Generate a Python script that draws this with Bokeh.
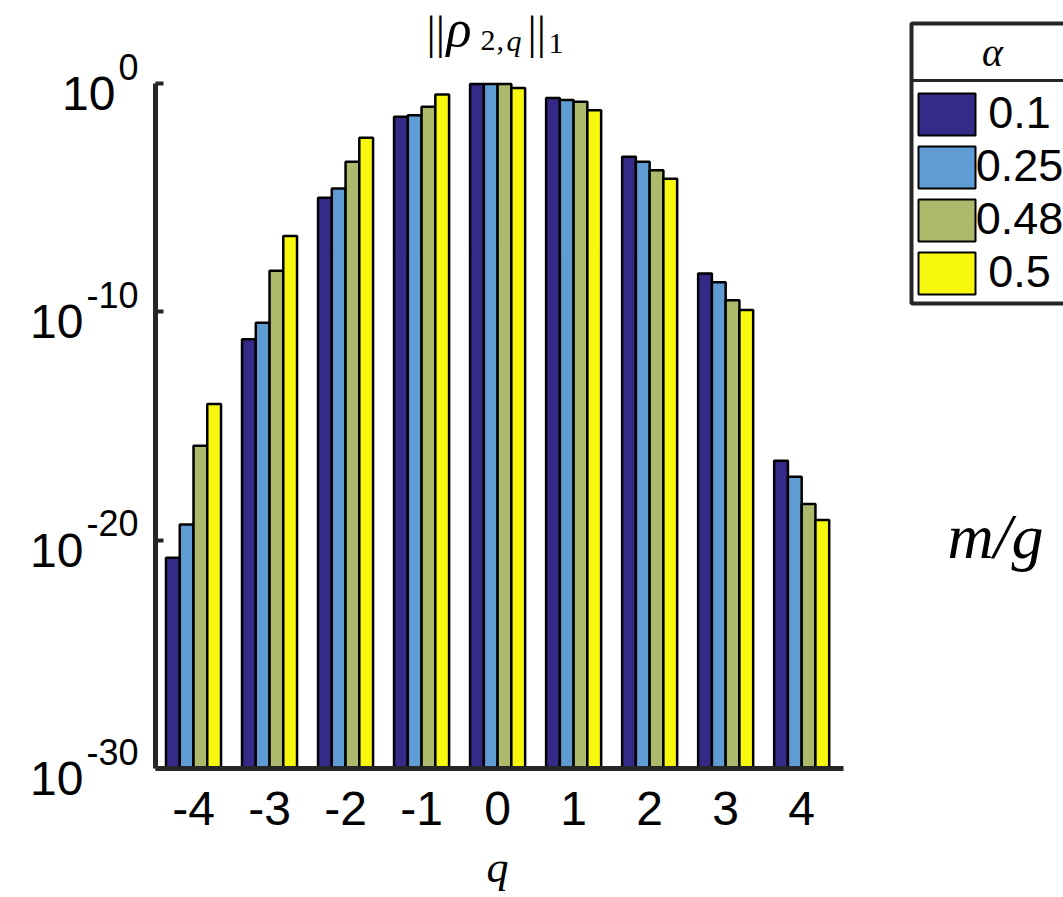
from bokeh.plotting import figure
from bokeh.models import (Range1d, FixedTicker, CustomJSTickFormatter, Label,
                          LinearAxis, LogAxis)
from bokeh.layouts import row
from bokeh.embed import file_html
from bokeh.resources import INLINE
from bokeh.core.properties import value

# ---------------- data ----------------
q_values = [-4, -3, -2, -1, 0, 1, 2, 3, 4]
x_tick_labels = ["-4", "-3", "-2", "-1", "0", "1", "2", "3", "4"]
alpha_labels = ["0.1", "0.25", "0.48", "0.5"]
colors = ["#352A87", "#5E9CD3", "#ADBA6B", "#F8F80E"]
norm_a01 = [1.7e-21, 6.3e-12, 1.0e-5, 0.035, 0.95, 0.23, 6.2e-4, 4.8e-9, 3.0e-17]
norm_a025 = [4.9e-20, 3.3e-11, 2.5e-5, 0.041, 0.95, 0.19, 3.7e-4, 2.0e-9, 6.0e-18]
norm_a048 = [1.35e-16, 6.3e-9, 3.7e-4, 0.095, 0.94, 0.16, 1.6e-4, 3.2e-10, 3.8e-19]
norm_a05 = [9.1e-15, 2.1e-7, 4.2e-3, 0.33, 0.64, 0.068, 6.8e-5, 1.2e-10, 7.6e-20]
series = [norm_a01, norm_a025, norm_a048, norm_a05]
y_tick_values = [1e-30, 1e-20, 1e-10, 1e0]
y_tick_exponents = ["-30", "-20", "-10", "0"]

SANS = "Liberation Sans"
SERIF = "Liberation Serif"
AXIS_COLOR = "#262626"
MID = 0.3375   # em offset from alphabetic baseline to text middle

# ---------------- layout constants (pixels) ----------------
W, H = 898, 897
FRAME_L, FRAME_R, FRAME_T, FRAME_B = 155, 843, 83, 768
X0, X1 = -4.5, 4.55          # axis extent (data)
E0, E1 = -30, 0              # log10 extent of y axis
Y0, Y1 = 10.0 ** E0, 10.0 ** E1

sx = (FRAME_R - FRAME_L) / (X1 - X0)
dec = (FRAME_B - FRAME_T) / (E1 - E0)
x_range = Range1d(X0 - FRAME_L / sx, X1 + (W - FRAME_R) / sx)
y_range = Range1d(10.0 ** (E0 - (H - FRAME_B) / dec), 10.0 ** (E1 + FRAME_T / dec))

p = figure(width=W, height=H, x_range=x_range, y_range=y_range, y_axis_type="log",
           x_axis_location=None, y_axis_location=None,
           output_backend="svg", toolbar_location=None, min_border=0)
p.outline_line_color = None
p.xgrid.visible = False
p.ygrid.visible = False
p.background_fill_color = "white"

bar_w = 0.181
for i, vals in enumerate(series):
    off = (i - 1.5) * bar_w
    p.vbar(x=[q + off for q in q_values], top=vals, bottom=Y0, width=bar_w,
           fill_color=colors[i], line_color="black", line_width=2.5)

# x axis
xaxis = LinearAxis(fixed_location=Y0, bounds=(X0, X1),
                   ticker=FixedTicker(ticks=q_values, minor_ticks=[]))
xaxis.major_label_overrides = {q: lab for q, lab in zip(q_values, x_tick_labels)}
xaxis.major_label_text_font = SANS
xaxis.major_label_text_font_size = "48px"
xaxis.major_label_text_color = "black"
xaxis.major_label_standoff = 23
xaxis.major_tick_in = 0
xaxis.major_tick_out = 0
xaxis.minor_tick_line_color = None
xaxis.axis_line_width = 5
xaxis.axis_line_color = AXIS_COLOR
p.add_layout(xaxis, "below")

# y axis
yaxis = LogAxis(fixed_location=X0, bounds=(Y0, Y1),
                ticker=FixedTicker(ticks=y_tick_values, minor_ticks=[]))
yaxis.formatter = CustomJSTickFormatter(code="return '';")
yaxis.major_tick_in = 8
yaxis.major_tick_out = 0
yaxis.major_tick_line_width = 4
yaxis.major_tick_line_color = AXIS_COLOR
yaxis.minor_tick_line_color = None
yaxis.axis_line_width = 5
yaxis.axis_line_color = AXIS_COLOR
p.add_layout(yaxis, "left")

# y tick labels 10^k
adv = {"0": 0.556, "1": 0.556, "2": 0.556, "3": 0.556, "-": 0.333}
SUP = 36
BASE = 48
for val, ex in zip(y_tick_values, y_tick_exponents):
    sup_w = sum(adv[c] for c in ex) * SUP
    p.add_layout(Label(x=X0, y=val, x_offset=-17, y_offset=17, text=ex,
                       text_align="right", text_baseline="middle",
                       text_font=SANS, text_font_size=f"{SUP}px", text_color="black"))
    p.add_layout(Label(x=X0, y=val, x_offset=-17 - sup_w - 3, y_offset=-10, text="10",
                       text_align="right", text_baseline="middle",
                       text_font=SANS, text_font_size=f"{BASE}px", text_color="black"))

# title ||rho_{2,q}||_1  (px = left edge, base = alphabetic baseline, in pixels)
def tlabel(txt, px, base, size, style="normal"):
    mid = base - MID * size
    p.add_layout(Label(x=X0, y=Y1, x_offset=px - FRAME_L, y_offset=FRAME_T - mid,
                       text=txt, text_align="left", text_baseline="middle",
                       text_font=SERIF, text_font_size=f"{size}px",
                       text_font_style=style, text_color="black"))

tlabel("||", 426, 48, 46)
tlabel("ρ", 446, 46, 52, "italic")
tlabel("2", 480, 50, 30)
tlabel(",", 496, 50, 30)
tlabel("q", 506, 50, 30, "italic")
tlabel("||", 527, 48, 46)
tlabel("1", 548, 53, 30)

# x axis label
p.add_layout(Label(x=0, y=Y0, y_offset=-(882 - MID * 44 - FRAME_B), text="q",
                   text_align="center", text_baseline="middle", text_font=SERIF,
                   text_font_size="44px", text_font_style="italic", text_color="black"))

# ---------------- legend / side panel ----------------
W2 = 1063 - W
p2 = figure(width=W2, height=H, x_range=Range1d(W, W + W2), y_range=Range1d(H, 0),
            output_backend="svg", toolbar_location=None, x_axis_location=None,
            y_axis_location=None, min_border=0)
p2.outline_line_color = None
p2.xgrid.visible = False
p2.ygrid.visible = False
p2.background_fill_color = "white"

p2.quad(left=[911], right=[1120], top=[23], bottom=[303], fill_color="white",
        line_color=AXIS_COLOR, line_width=4)
p2.segment(x0=[911], y0=[80], x1=[1120], y1=[80], line_color=AXIS_COLOR, line_width=3)
p2.text(x=[992], y=[52], text=["α"], text_font=value(SERIF), text_font_style="italic",
        text_font_size="40px", text_align="center", text_baseline="middle", text_color="black")

n = len(alpha_labels)
tops = [93 + 53 * i for i in range(n)]
p2.quad(left=[918] * n, right=[975] * n, top=tops, bottom=[t + 42 for t in tops],
        fill_color=colors, line_color="black", line_width=2)
p2.text(x=[1019] * n, y=[t + 19 for t in tops], text=alpha_labels, text_font=value(SANS),
        text_font_size="45px", text_align="center", text_baseline="middle", text_color="black")

p2.text(x=[947], y=[558 - MID * 64], text=["m/g"], text_font=value(SERIF),
        text_font_style="italic", text_font_size="64px", text_align="left",
        text_baseline="middle", text_color="black")

layout = row(p, p2)
open("out.html", "w").write(file_html(layout, INLINE))
